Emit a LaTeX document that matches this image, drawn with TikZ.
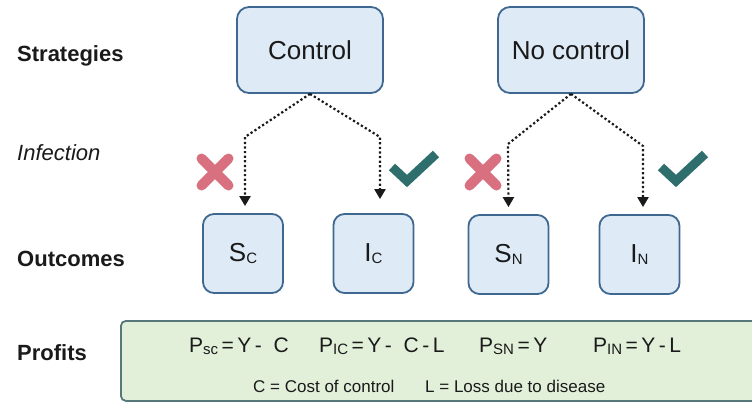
\documentclass[tikz,border=0pt]{standalone}
\usepackage{fontspec}
\setmainfont{Liberation Sans}
\usetikzlibrary{arrows.meta}
\definecolor{boxfill}{HTML}{DEEBF7}
\definecolor{boxline}{HTML}{3F6890}
\definecolor{greenfill}{HTML}{E2F0DA}
\definecolor{greenline}{HTML}{56787A}
\definecolor{nopink}{HTML}{D9707F}
\definecolor{okteal}{HTML}{2E6F6E}
\definecolor{ink}{HTML}{1A1A1A}
\newcommand{\lowsub}[1]{\raisebox{-2pt}{\fontsize{15}{15}\selectfont #1}}

\begin{document}
\begin{tikzpicture}[x=1pt,y=-1pt]
\tikzset{strat/.style={draw=boxline, fill=boxfill, line width=1.8pt, rounded corners=12pt, minimum width=146pt, minimum height=86pt, inner sep=0pt, text=ink, font=\fontsize{26}{26}\selectfont},
outc/.style={strat, rounded corners=11pt, minimum width=80pt, minimum height=79pt},
rowlab/.style={anchor=base west, inner sep=0pt, text=ink, font=\fontsize{22}{22}\selectfont\bfseries},
formula/.style={anchor=base west, inner sep=0pt, text=ink, font=\fontsize{21}{21}\selectfont},
note/.style={anchor=base west, inner sep=0pt, text=ink, font=\fontsize{17}{17}\selectfont},
dotarr/.style={draw=ink, line width=2.2pt, dash pattern=on 2.2pt off 2.4pt, -{Triangle[length=10pt,width=11pt]}},
nomark/.style={draw=nopink, line width=10pt, line cap=round},
okmark/.style={draw=okteal, line width=9pt, line cap=butt, line join=miter}}
\useasboundingbox (0,0) rectangle (752,402);
\clip (0,0) rectangle (752,402);
\node[rowlab] (L1) at (17,61) {Strategies};
\node[rowlab, font=\fontsize{22}{22}\selectfont\itshape] (L2) at (17,160) {Infection};
\node[rowlab] (L3) at (17,266) {Outcomes};
\node[rowlab] (L4) at (17,360) {Profits};
\node[strat] (C) at (310,50) {Control};
\node[strat] (N) at (571,50) {No control};
\node[outc] (SC) at (243,253.5) {S\lowsub{C}};
\node[outc] (IC) at (373.5,253.5) {I\lowsub{C}};
\node[outc] (SN) at (508.5,254.5) {S\lowsub{N}};
\node[outc] (IN) at (639.5,254.5) {I\lowsub{N}};
\draw[dotarr] (C.south) -- (245,137) -- ([xshift=2pt,yshift=7pt]SC.north);
\draw[dotarr] (C.south) -- (380,137) -- ([xshift=6.5pt,yshift=14pt]IC.north);
\draw[dotarr] (N.south) -- (508,144) -- ([yshift=7pt]SN.north);
\draw[dotarr] (N.south) -- (643,146) -- ([xshift=3.5pt,yshift=7pt]IN.north);
\draw[nomark] (201.5,158.5) -- (228.5,185.5) (201.5,185.5) -- (228.5,158.5);
\draw[nomark] (469.5,158.5) -- (496.5,185.5) (469.5,185.5) -- (496.5,158.5);
\draw[okmark] (392,167) -- (407,181) -- (436,154);
\draw[okmark] (661,167) -- (676,181) -- (705,154);
\node[draw=greenline, fill=greenfill, line width=1.8pt, rounded corners=5pt, minimum width=650pt, minimum height=80pt, anchor=north west] (P) at (120,320) {};
\node[formula] (F1) at (189,352) {P\lowsub{sc}\,=\,Y\,-\ \ C};
\node[formula] (F2) at (319,352) {P\lowsub{IC}\,=\,Y\,-\ \ C\,-\,L};
\node[formula] (F3) at (479,352) {P\lowsub{SN}\,=\,Y};
\node[formula] (F4) at (593,352) {P\lowsub{IN}\,=\,Y\,-\,L};
\node[note] (K1) at (253,392) {C = Cost of control};
\node[note] (K2) at (425,392) {L = Loss due to disease};
\end{tikzpicture}
\end{document}
